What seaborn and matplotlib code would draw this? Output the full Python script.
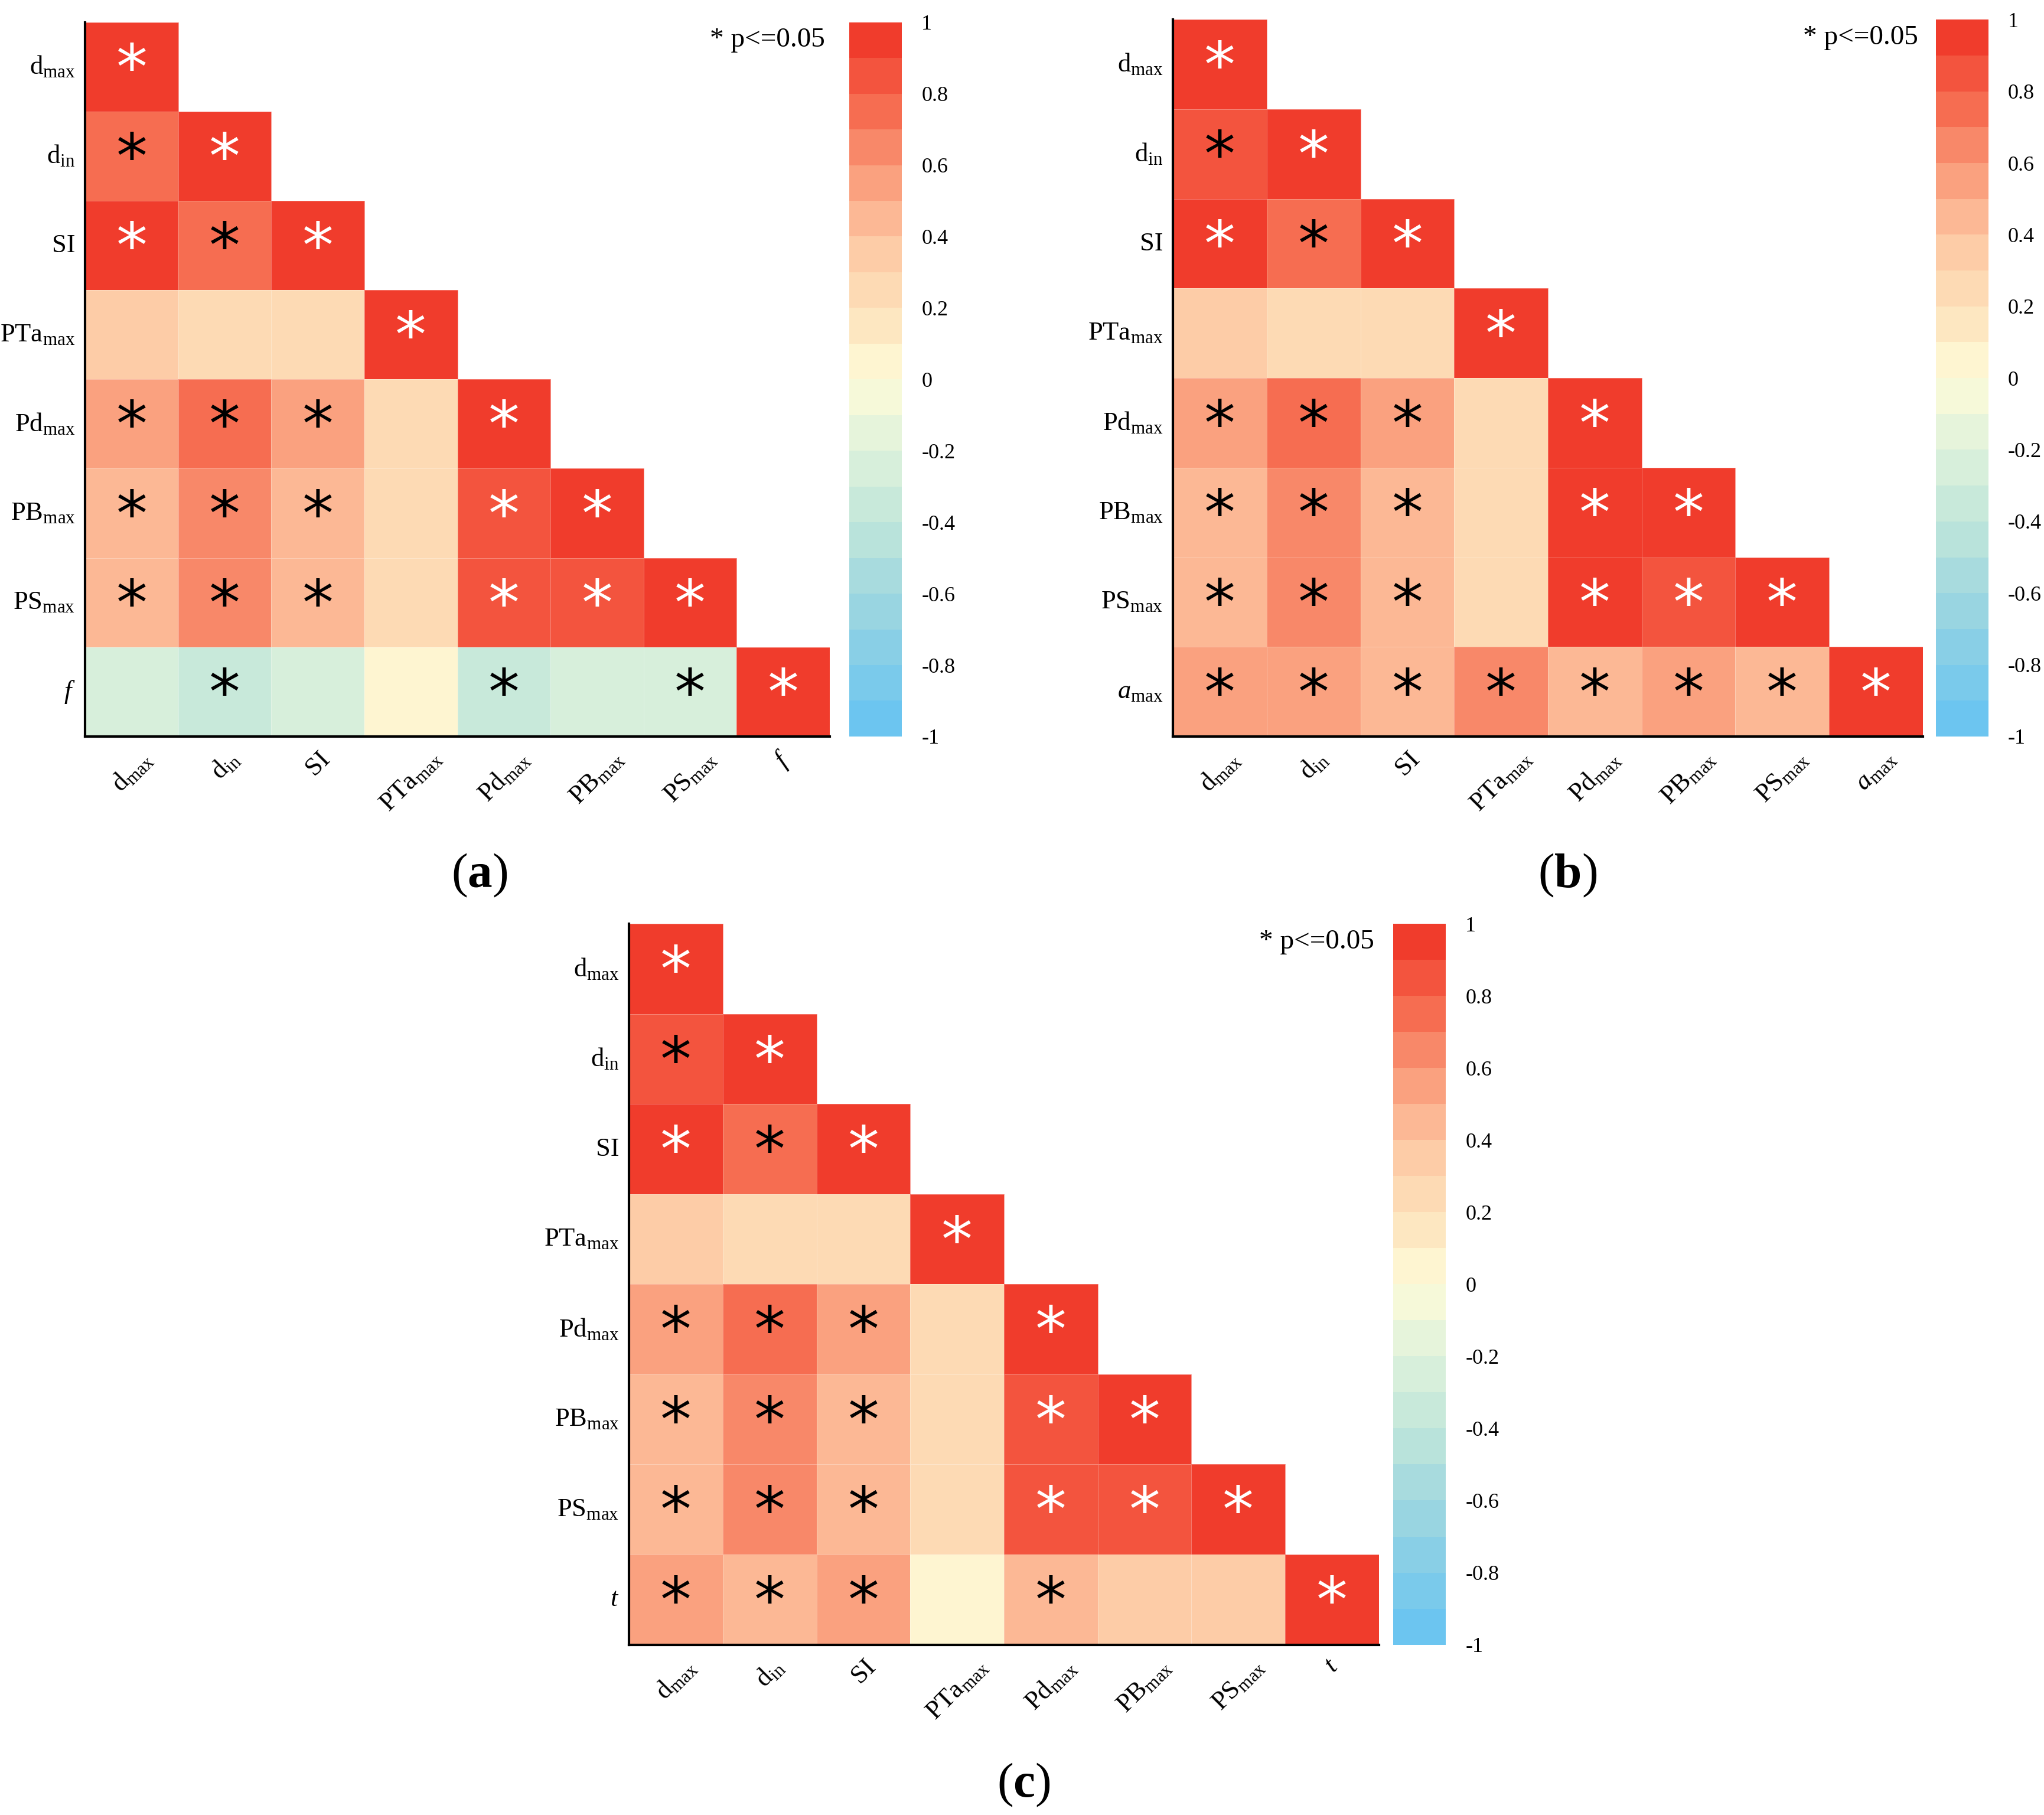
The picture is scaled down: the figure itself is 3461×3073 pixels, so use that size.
import numpy as np
import matplotlib
matplotlib.use("Agg")
import matplotlib.pyplot as plt
import seaborn as sns
from matplotlib.colors import LinearSegmentedColormap, ListedColormap

plt.rcParams['font.family'] = 'Liberation Serif'
plt.rcParams['mathtext.fontset'] = 'custom'
plt.rcParams['mathtext.rm'] = 'Liberation Serif'
plt.rcParams['mathtext.it'] = 'Liberation Serif:italic'
plt.rcParams['mathtext.bf'] = 'Liberation Serif:bold'

base_labels = [r'd$_{\mathregular{max}}$', r'd$_{\mathregular{in}}$', 'SI', r'PTa$_{\mathregular{max}}$',
               r'Pd$_{\mathregular{max}}$', r'PB$_{\mathregular{max}}$', r'PS$_{\mathregular{max}}$']
labels_a = base_labels + [r'$\mathit{f}$']
labels_b = base_labels + [r'$\mathit{a}_{\mathregular{max}}$']
labels_c = base_labels + [r'$\mathit{t}$']

vals_a = [[1.0],
          [0.75, 0.95],
          [0.92, 0.72, 0.95],
          [0.30, 0.25, 0.25, 1.0],
          [0.50, 0.70, 0.50, 0.25, 1.0],
          [0.45, 0.65, 0.45, 0.25, 0.85, 0.95],
          [0.45, 0.65, 0.45, 0.25, 0.85, 0.85, 0.95],
          [-0.28, -0.38, -0.28, 0.05, -0.33, -0.28, -0.30, 1.0]]
stars_a = ["w", "kw", "wkw", "...w", "kkk.w", "kkk.ww", "kkk.www", ".k..k.kw"]

vals_b = [[1.0],
          [0.80, 0.95],
          [0.92, 0.75, 0.95],
          [0.30, 0.25, 0.25, 1.0],
          [0.50, 0.70, 0.50, 0.22, 1.0],
          [0.45, 0.65, 0.45, 0.22, 0.90, 0.95],
          [0.45, 0.65, 0.45, 0.22, 0.90, 0.85, 0.95],
          [0.52, 0.58, 0.42, 0.62, 0.48, 0.52, 0.48, 1.0]]
stars_b = ["w", "kw", "wkw", "...w", "kkk.w", "kkk.ww", "kkk.www", "kkkkkkkw"]

vals_c = [[1.0],
          [0.80, 0.95],
          [0.92, 0.75, 0.95],
          [0.30, 0.25, 0.25, 1.0],
          [0.50, 0.70, 0.50, 0.25, 1.0],
          [0.42, 0.65, 0.45, 0.25, 0.85, 0.95],
          [0.42, 0.65, 0.45, 0.25, 0.85, 0.82, 0.95],
          [0.52, 0.45, 0.58, 0.08, 0.42, 0.35, 0.35, 1.0]]
stars_c = ["w", "kw", "wkw", "...w", "kkk.w", "kkk.ww", "kkk.www", "kkk.k..w"]

base = LinearSegmentedColormap.from_list('c', [
    (0.0, '#6cc5f0'), (0.1, '#88cfe6'), (0.2, '#a6dade'), (0.3, '#c4e8da'),
    (0.4, '#e0f2dc'), (0.5, '#fefcd8'), (0.6, '#fde2bc'), (0.7, '#fdc8a4'),
    (0.8, '#fa9e7c'), (0.9, '#f66c50'), (1.0, '#f03c2c')])
cmap = ListedColormap(base(np.linspace(0, 1, 20)))

W, H = 1560, 1385
fig = plt.figure(figsize=(3462/200, 3073/200), dpi=200)

def ax_at(x0, y0, x1, y1):
    return fig.add_axes([x0/W, 1 - y1/H, (x1-x0)/W, (y1-y0)/H])

def panel(vals, stars, labels, hbox, cbox, letter, lx, ly):
    n = len(labels)
    M = np.full((n, n), np.nan)
    for i, r in enumerate(vals):
        M[i, :len(r)] = r
    ax = ax_at(*hbox)
    cax = ax_at(*cbox)
    sns.heatmap(M, ax=ax, cmap=cmap, vmin=-1, vmax=1, mask=np.isnan(M),
                linewidths=0.3, linecolor=(1, 1, 1, 0.3), cbar_ax=cax, square=False)
    for i, s in enumerate(stars):
        for j, c in enumerate(s):
            if c in 'wk':
                ax.text(j+0.5, i+0.55, '*', ha='center', va='center', fontsize=38,
                        color='white' if c == 'w' else 'black', family='DejaVu Sans')
    ax.set_xticks(np.arange(n)+0.5)
    ax.set_yticks(np.arange(n)+0.5)
    ax.set_xticklabels(labels, rotation=45, fontsize=16)
    ax.set_yticklabels(labels, rotation=0, fontsize=16)
    ax.tick_params(length=0, pad=6)
    for sp in ['left', 'bottom']:
        ax.spines[sp].set_visible(True)
        ax.spines[sp].set_color('black')
        ax.spines[sp].set_linewidth(1.5)
    ax.text(n - 0.05, 0.2, '* p<=0.05', ha='right', va='center', fontsize=17)
    cax.set_yticks(np.linspace(-1, 1, 11))
    cax.set_yticklabels(['-1', '-0.8', '-0.6', '-0.4', '-0.2', '0', '0.2', '0.4', '0.6', '0.8', '1'], fontsize=13)
    cax.tick_params(length=0, pad=12)
    for sp in cax.spines.values():
        sp.set_visible(False)
    fig.text(lx/W, 1 - ly/H, '(' + r'$\mathbf{' + letter + '}$' + ')', ha='center', va='center', fontsize=30)

panel(vals_a, stars_a, labels_a, (65, 17, 633, 562), (648, 17, 688, 562), 'a', 366, 668)
panel(vals_b, stars_b, labels_b, (895, 15, 1467, 562), (1477, 15, 1517, 562), 'b', 1196, 668)
panel(vals_c, stars_c, labels_c, (480, 705, 1052, 1255), (1063, 705, 1103, 1255), 'c', 781, 1362)

fig.savefig('out.png', dpi=200)
